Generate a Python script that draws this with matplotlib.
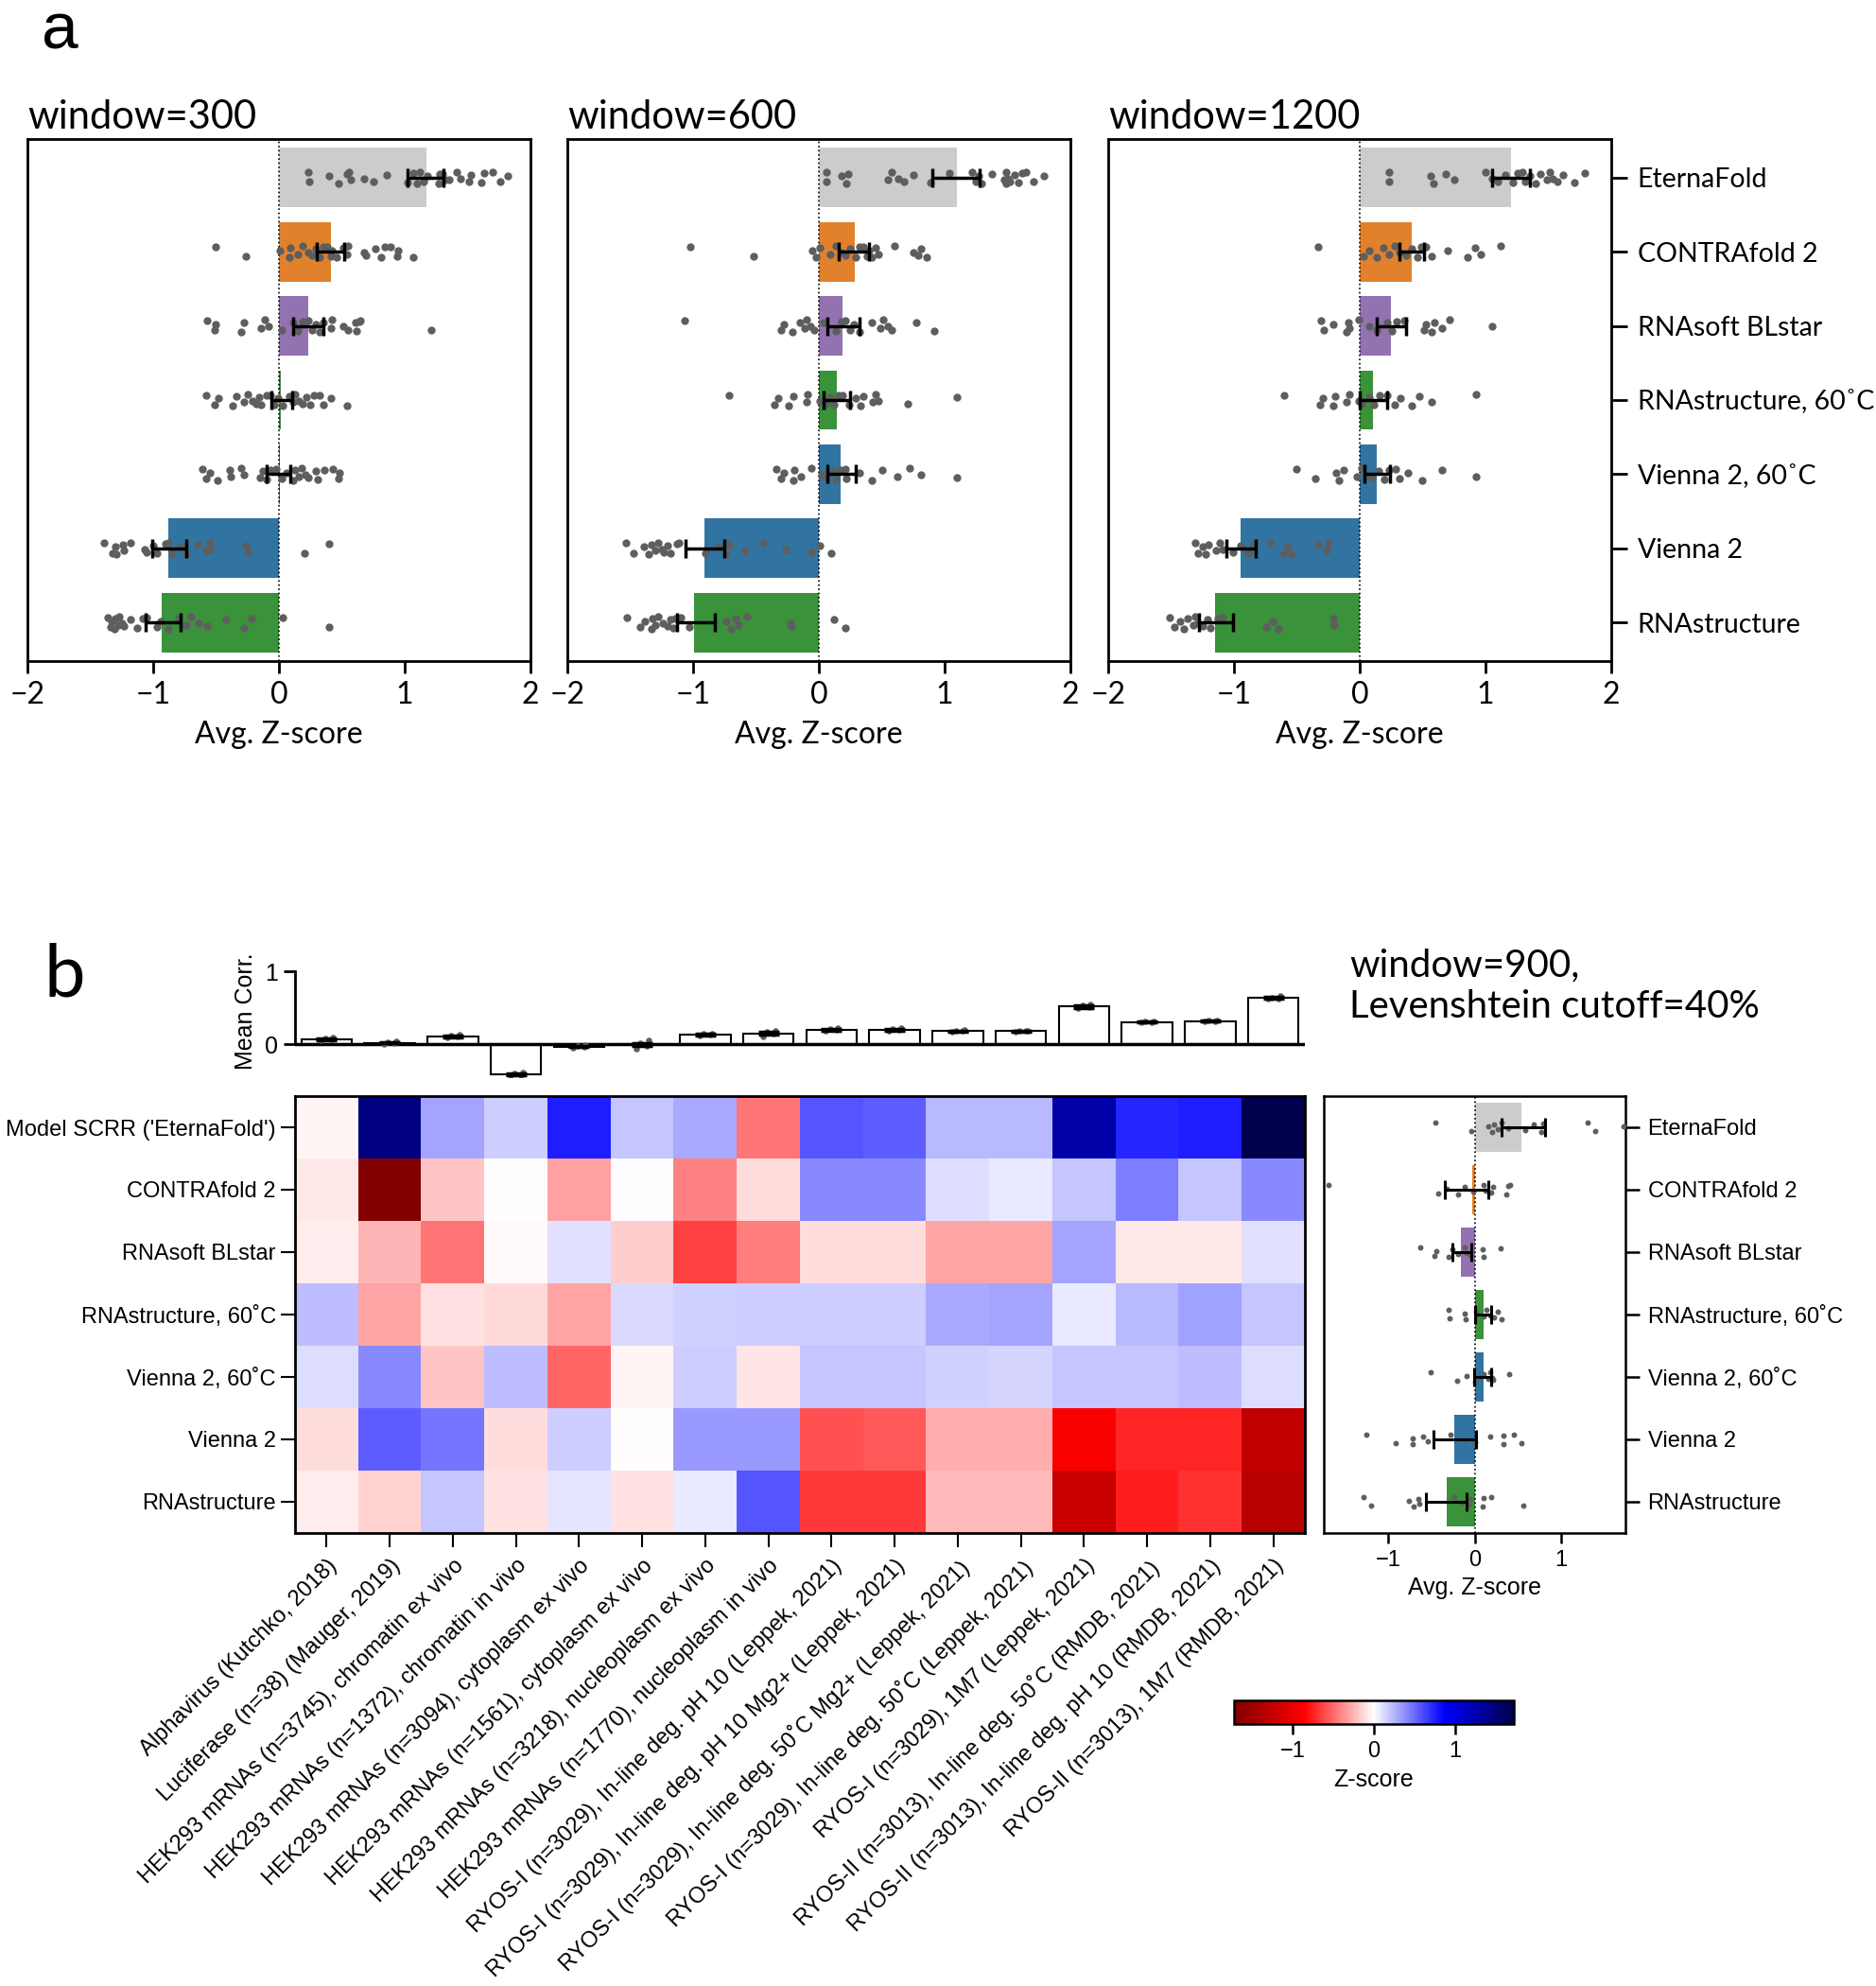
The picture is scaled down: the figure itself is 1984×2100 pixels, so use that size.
import numpy as np
import matplotlib
matplotlib.use("Agg")
import matplotlib.pyplot as plt
import seaborn as sns

plt.rcParams['font.family'] = ['Liberation Sans', 'DejaVu Sans']
LATO = ['Lato', 'DejaVu Sans']

W, H = 1984, 2100

methods = ["EternaFold", "CONTRAfold 2", "RNAsoft BLstar", "RNAstructure, 60˚C",
           "Vienna 2, 60˚C", "Vienna 2", "RNAstructure"]
heat_rows = ["Model SCRR ('EternaFold')", "CONTRAfold 2", "RNAsoft BLstar",
             "RNAstructure, 60˚C", "Vienna 2, 60˚C", "Vienna 2", "RNAstructure"]
base_colors = ["lightgray", "tab:orange", "tab:purple", "tab:green",
               "tab:blue", "tab:blue", "tab:green"]
windows = ["window=300", "window=600", "window=1200"]

# panel a: bar means and 95% CI per window
means_a = [
    [1.175, 0.41, 0.23, 0.015, 0.005, -0.877, -0.93],
    [1.10, 0.285, 0.19, 0.14, 0.17, -0.91, -0.99],
    [1.20, 0.415, 0.25, 0.105, 0.135, -0.945, -1.15],
]
ci_a = [
    [(1.02, 1.31), (0.30, 0.52), (0.11, 0.355), (-0.06, 0.105), (-0.10, 0.09), (-1.01, -0.74), (-1.06, -0.78)],
    [(0.905, 1.28), (0.16, 0.40), (0.066, 0.32), (0.035, 0.25), (0.07, 0.29), (-1.06, -0.75), (-1.13, -0.83)],
    [(1.055, 1.35), (0.315, 0.515), (0.135, 0.365), (0.0, 0.22), (0.04, 0.24), (-1.06, -0.83), (-1.28, -1.01)],
]
# per-sequence points (window=300)
pts_300 = [
    [0.23, 0.24, 0.40, 0.47, 0.54, 0.57, 0.56, 0.68, 0.75, 0.86, 1.02, 1.07, 1.12, 1.15, 1.18, 1.27, 1.30,
     1.35, 1.41, 1.44, 1.51, 1.53, 1.61, 1.63, 1.70, 1.76, 1.82, 1.10, 1.28, 1.32],
    [-0.50, -0.26, 0.005, 0.08, 0.09, 0.15, 0.19, 0.235, 0.26, 0.29, 0.32, 0.35, 0.38, 0.41, 0.42, 0.46,
     0.51, 0.54, 0.55, 0.68, 0.69, 0.77, 0.81, 0.84, 0.89, 0.94, 0.95, 1.07],
    [-0.57, -0.51, -0.50, -0.30, -0.28, -0.14, -0.11, -0.08, 0.02, 0.11, 0.15, 0.19, 0.23, 0.26, 0.29, 0.32,
     0.35, 0.41, 0.42, 0.51, 0.55, 0.61, 0.62, 0.64, 0.65, 1.21],
    [-0.58, -0.51, -0.48, -0.37, -0.34, -0.28, -0.25, -0.21, -0.18, -0.16, -0.14, -0.095, -0.065, -0.04,
     -0.01, 0.03, 0.08, 0.11, 0.13, 0.16, 0.19, 0.22, 0.25, 0.28, 0.32, 0.355, 0.41, 0.54],
    [-0.61, -0.58, -0.55, -0.49, -0.39, -0.38, -0.30, -0.28, -0.15, -0.13, -0.095, -0.065, -0.02, 0.02,
     0.06, 0.11, 0.13, 0.155, 0.18, 0.21, 0.23, 0.29, 0.31, 0.36, 0.43, 0.47, 0.48],
    [-1.39, -1.32, -1.30, -1.29, -1.24, -1.23, -1.18, -1.07, -1.05, -1.00, -0.97, -0.90, -0.88, -0.85,
     -0.78, -0.74, -0.65, -0.58, -0.55, -0.54, -0.25, -0.26, 0.20, 0.40],
    [-1.36, -1.34, -1.33, -1.31, -1.30, -1.28, -1.27, -1.25, -1.23, -1.18, -1.13, -1.08, -1.05, -0.97,
     -0.94, -0.88, -0.80, -0.74, -0.70, -0.64, -0.57, -0.42, -0.28, -0.22, 0.03, 0.40],
]
pts_600 = [
    [0.06, 0.06, 0.18, 0.22, 0.23, 0.55, 0.58, 0.63, 0.68, 0.755, 0.89, 1.04, 1.22, 1.245, 1.27, 1.29,
     1.375, 1.475, 1.49, 1.505, 1.52, 1.56, 1.59, 1.62, 1.65, 1.71, 1.79, 1.49],
    [-1.02, -0.52, -0.05, -0.02, 0.01, 0.09, 0.135, 0.18, 0.21, 0.25, 0.29, 0.32, 0.35, 0.38, 0.395, 0.42,
     0.45, 0.47, 0.605, 0.755, 0.79, 0.81, 0.86],
    [-1.07, -0.30, -0.28, -0.21, -0.15, -0.11, -0.095, -0.07, -0.04, 0.035, 0.135, 0.18, 0.21, 0.25, 0.28,
     0.32, 0.42, 0.49, 0.51, 0.55, 0.58, 0.775, 0.915],
    [-0.715, -0.35, -0.32, -0.24, -0.20, -0.10, -0.09, 0.01, 0.05, 0.09, 0.12, 0.155, 0.19, 0.24, 0.29,
     0.33, 0.35, 0.43, 0.45, 0.47, 0.705, 1.10],
    [-0.34, -0.30, -0.28, -0.20, -0.195, -0.14, -0.06, 0.02, 0.06, 0.11, 0.135, 0.17, 0.21, 0.22, 0.32,
     0.42, 0.50, 0.625, 0.72, 0.81, 1.10],
    [-1.535, -1.47, -1.39, -1.35, -1.33, -1.30, -1.28, -1.25, -1.23, -1.20, -1.18, -1.13, -1.11, -0.90,
     -0.80, -0.74, -0.715, -0.585, -0.44, -0.26, -0.06, 0.005, 0.10],
    [-1.53, -1.42, -1.38, -1.33, -1.32, -1.30, -1.28, -1.24, -1.20, -1.18, -1.16, -1.14, -1.10, -1.03,
     -0.74, -0.70, -0.66, -0.64, -0.57, -0.225, -0.215, 0.12, 0.21],
]
pts_1200 = [
    [0.23, 0.235, 0.565, 0.59, 0.685, 0.755, 1.0, 1.055, 1.095, 1.155, 1.215, 1.255, 1.295, 1.315, 1.355,
     1.395, 1.435, 1.485, 1.51, 1.535, 1.575, 1.615, 1.71, 1.79],
    [-0.33, 0.03, 0.075, 0.135, 0.19, 0.235, 0.275, 0.315, 0.365, 0.415, 0.455, 0.485, 0.525, 0.57, 0.70,
     0.855, 0.915, 0.965, 1.12],
    [-0.305, -0.285, -0.21, -0.105, -0.09, -0.085, -0.01, 0.075, 0.135, 0.215, 0.255, 0.295, 0.35, 0.515,
     0.53, 0.575, 0.595, 0.655, 0.715, 1.05],
    [-0.60, -0.315, -0.29, -0.21, -0.195, -0.105, -0.085, -0.01, 0.015, 0.075, 0.115, 0.155, 0.215, 0.275,
     0.325, 0.41, 0.475, 0.57, 0.925],
    [-0.505, -0.35, -0.185, -0.165, -0.125, -0.025, 0.015, 0.055, 0.095, 0.15, 0.195, 0.235, 0.285, 0.315,
     0.385, 0.495, 0.655, 0.925],
    [-1.305, -1.285, -1.25, -1.225, -1.205, -1.145, -1.115, -1.09, -1.005, -0.945, -0.89, -0.845, -0.715,
     -0.605, -0.57, -0.545, -0.33, -0.265, -0.245],
    [-1.515, -1.475, -1.425, -1.395, -1.365, -1.325, -1.305, -1.285, -1.25, -1.21, -1.185, -1.13, -1.09,
     -0.745, -0.69, -0.645, -0.21, -0.205],
]
pts_a = [pts_300, pts_600, pts_1200]

# panel b: heatmap of Z-scores
datasets = [
    "Alphavirus (Kutchko, 2018)",
    "Luciferase (n=38) (Mauger, 2019)",
    "HEK293 mRNAs (n=3745), chromatin ex vivo",
    "HEK293 mRNAs (n=1372), chromatin in vivo",
    "HEK293 mRNAs (n=3094), cytoplasm ex vivo",
    "HEK293 mRNAs (n=1561), cytoplasm ex vivo",
    "HEK293 mRNAs (n=3218), nucleoplasm ex vivo",
    "HEK293 mRNAs (n=1770), nucleoplasm in vivo",
    "RYOS-I (n=3029), In-line deg. pH 10 (Leppek, 2021)",
    "RYOS-I (n=3029), In-line deg. pH 10 Mg2+ (Leppek, 2021)",
    "RYOS-I (n=3029), In-line deg. 50˚C Mg2+ (Leppek, 2021)",
    "RYOS-I (n=3029), In-line deg. 50˚C (Leppek, 2021)",
    "RYOS-I (n=3029), 1M7 (Leppek, 2021)",
    "RYOS-II (n=3013), In-line deg. 50˚C (RMDB, 2021)",
    "RYOS-II (n=3013), In-line deg. pH 10 (RMDB, 2021)",
    "RYOS-II (n=3013), 1M7 (RMDB, 2021)",
]
z_eterna = [-0.03, 1.46, 0.30, 0.17, 0.76, 0.19, 0.29, -0.46, 0.57, 0.55, 0.24, 0.24, 1.27, 0.73, 0.76, 1.70]
z_contra = [-0.08, -1.70, -0.20, -0.01, -0.32, 0.0, -0.42, -0.11, 0.39, 0.40, 0.12, 0.08, 0.20, 0.44, 0.20, 0.40]
z_rnasoft = [-0.06, -0.25, -0.46, -0.02, 0.10, -0.17, -0.64, -0.44, -0.12, -0.11, -0.30, -0.30, 0.30, -0.08, -0.08, 0.10]
z_rnastr60 = [0.22, -0.30, -0.10, -0.13, -0.30, 0.13, 0.15, 0.17, 0.17, 0.17, 0.29, 0.30, 0.08, 0.24, 0.32, 0.20]
z_vienna60 = [0.12, 0.40, -0.20, 0.22, -0.52, -0.04, 0.17, -0.09, 0.19, 0.19, 0.15, 0.14, 0.20, 0.20, 0.22, 0.12]
z_vienna = [-0.11, 0.54, 0.46, -0.11, 0.17, -0.01, 0.34, 0.34, -0.59, -0.56, -0.27, -0.27, -0.89, -0.73, -0.73, -1.27]
z_rnastr = [-0.06, -0.15, 0.20, -0.10, 0.09, -0.10, 0.08, 0.57, -0.66, -0.66, -0.24, -0.24, -1.20, -0.76, -0.69, -1.33]

# panel b: mean correlation per dataset
corr_mean = [0.07, 0.02, 0.11, -0.41, -0.03, 0.0, 0.13, 0.15, 0.20, 0.20, 0.18, 0.18, 0.52, 0.305, 0.32, 0.635]
corr_err = [0.01, 0.01, 0.01, 0.01, 0.01, 0.02, 0.01, 0.02, 0.01, 0.01, 0.01, 0.01, 0.02, 0.01, 0.01, 0.01]
corr_pts = [
    [0.06, 0.07, 0.08, 0.09], [0.00, 0.02, 0.03, 0.04], [0.10, 0.11, 0.12, 0.13],
    [-0.43, -0.42, -0.40, -0.39], [-0.05, -0.03, -0.02, -0.01], [-0.06, -0.02, 0.02, 0.05],
    [0.12, 0.13, 0.14, 0.14], [0.11, 0.14, 0.17, 0.19], [0.19, 0.20, 0.21, 0.22],
    [0.19, 0.20, 0.21, 0.22], [0.17, 0.18, 0.19, 0.20], [0.17, 0.18, 0.19, 0.19],
    [0.49, 0.51, 0.53, 0.55], [0.30, 0.30, 0.31, 0.32], [0.31, 0.32, 0.33, 0.33],
    [0.62, 0.63, 0.64, 0.66],
]

# panel b: window=900 summary
means_b = [0.545, -0.025, -0.16, 0.10, 0.10, -0.23, -0.32]
ci_b = [(0.31, 0.81), (-0.345, 0.16), (-0.255, -0.04), (0.0, 0.19), (-0.01, 0.19), (-0.47, 0.02), (-0.565, -0.09)]
pts_b = [
    [-0.45, -0.04, 0.16, 0.20, 0.225, 0.265, 0.31, 0.39, 0.58, 0.68, 0.77, 0.79, 1.30, 1.39, 1.72],
    [-1.69, -0.42, -0.32, -0.19, -0.11, -0.02, 0.10, 0.13, 0.19, 0.21, 0.36, 0.39, 0.41],
    [-0.625, -0.46, -0.44, -0.30, -0.255, -0.19, -0.12, -0.09, -0.045, 0.09, 0.10, 0.295],
    [-0.30, -0.285, -0.12, -0.10, 0.015, 0.10, 0.14, 0.18, 0.225, 0.265, 0.31],
    [-0.51, -0.20, -0.09, 0.0, 0.10, 0.16, 0.18, 0.20, 0.215, 0.40],
    [-1.25, -0.91, -0.72, -0.71, -0.59, -0.535, -0.275, -0.11, 0.0, 0.175, 0.33, 0.335, 0.455, 0.545],
    [-1.28, -1.19, -0.755, -0.70, -0.65, -0.64, -0.23, -0.15, -0.075, -0.045, 0.09, 0.10, 0.19, 0.56],
]

JIT = [-0.07, 0.06, -0.02, 0.08, -0.05, 0.03, -0.08, 0.01, 0.05, -0.04, 0.07, -0.06]
colors = [sns.desaturate(c, 0.75) for c in base_colors]
colors[0] = "#cccccc"


def box(l, t, r, b):
    return [l / W, 1 - b / H, (r - l) / W, (b - t) / H]


def hbar_panel(ax, means, ci, pts, ptsize, cap, elw):
    y = np.arange(len(means))
    ax.barh(y, means, height=0.8, color=colors, zorder=1)
    ax.axvline(0, color="black", ls=":", lw=1.2, zorder=2)
    for i, vals in enumerate(pts):
        yy = [i + JIT[k % len(JIT)] for k in range(len(vals))]
        ax.scatter(vals, yy, s=ptsize, color="#5e5e5e", linewidths=0, zorder=3)
        lo, hi = ci[i]
        ax.errorbar((lo + hi) / 2, i, xerr=(hi - lo) / 2, fmt="none", ecolor="black",
                    elinewidth=elw, capsize=cap, capthick=elw, zorder=4)
    ax.set_ylim(6.52, -0.52)


fig = plt.figure(figsize=(W / 100, H / 100), dpi=100)

# ---------------- panel a ----------------
lefts = [29, 600, 1172]
for k in range(3):
    ax = fig.add_axes(box(lefts[k], 147, lefts[k] + 532, 699))
    hbar_panel(ax, means_a[k], ci_a[k], pts_a[k], 36, 7, 2.5)
    ax.set_xlim(-2, 2)
    ax.set_xticks([-2, -1, 0, 1, 2])
    for s in ax.spines.values():
        s.set_linewidth(2)
    ax.tick_params(axis="x", length=9, width=2, labelsize=23, pad=6)
    for lab in ax.get_xticklabels():
        lab.set_family(LATO)
    ax.set_xlabel("Avg. Z-score", fontsize=23, family=LATO, labelpad=9)
    ax.set_title(windows[k], loc="left", fontsize=30, family=LATO, pad=8)
    if k == 2:
        ax.set_yticks(np.arange(7))
        ax.set_yticklabels(methods, family=LATO)
        ax.yaxis.tick_right()
        ax.tick_params(axis="y", length=12, width=2, labelsize=20.5, pad=8)
    else:
        ax.set_yticks([])

fig.text(44 / W, 1 - 1 / H, "a", fontsize=50, va="top")
fig.text(47 / W, 1 - 1054 / H, "b", fontsize=56, family=LATO, va="baseline")

# ---------------- panel b: mean correlation ----------------
axc = fig.add_axes(box(312, 1000, 1380, 1139))
xc = np.arange(len(corr_mean))
axc.bar(xc, corr_mean, width=0.8, color="white", edgecolor="black", linewidth=1.5, zorder=1)
axc.axhline(0, color="black", lw=2.5, zorder=2)
for i, vals in enumerate(corr_pts):
    xx = [i + JIT[k % len(JIT)] * 1.3 for k in range(len(vals))]
    axc.scatter(xx, vals, s=22, color="#5e5e5e", linewidths=0, zorder=3)
    axc.errorbar(i, corr_mean[i], yerr=corr_err[i], fmt="none", ecolor="black",
                 elinewidth=2.5, capsize=8, capthick=2.5, zorder=4)
axc.set_xlim(-0.5, len(corr_mean) - 0.5)
axc.set_ylim(-0.45, 1.35)
axc.set_yticks([0, 1])
axc.set_xticks([])
for s in ["top", "right", "bottom"]:
    axc.spines[s].set_visible(False)
axc.spines["left"].set_bounds(0, 1)
axc.spines["left"].set_linewidth(2)
axc.tick_params(axis="y", length=9, width=2, labelsize=18, pad=4)
axc.set_ylabel("Mean Corr.", fontsize=18, labelpad=6)

# ---------------- panel b: heatmap ----------------
Z = np.array([z_eterna, z_contra, z_rnasoft, z_rnastr60, z_vienna60, z_vienna, z_rnastr])
axh = fig.add_axes(box(312, 1159, 1380, 1621))
im = axh.imshow(Z, cmap="seismic_r", vmin=-1.72, vmax=1.72, aspect="auto",
                interpolation="nearest")
axh.set_yticks(np.arange(len(heat_rows)))
axh.set_yticklabels(heat_rows, fontsize=17)
axh.set_xticks(np.arange(len(datasets)))
axh.set_xticklabels(datasets, fontsize=17, rotation=45, ha="right", rotation_mode="anchor")
axh.tick_params(axis="both", length=11, width=1.5)
axh.tick_params(axis="x", pad=6)
for s in axh.spines.values():
    s.set_linewidth(2)

# ---------------- panel b: window=900 bars ----------------
axr = fig.add_axes(box(1400, 1159, 1719, 1621))
hbar_panel(axr, means_b, ci_b, pts_b, 18, 7, 2.2)
axr.set_ylim(6.5, -0.5)
axr.set_xlim(-1.74, 1.74)
axr.set_xticks([-1, 0, 1])
axr.set_yticks(np.arange(7))
axr.set_yticklabels(methods)
axr.yaxis.tick_right()
for s in axr.spines.values():
    s.set_linewidth(1.8)
axr.tick_params(axis="y", length=11, width=1.8, labelsize=17, pad=6)
axr.tick_params(axis="x", length=8, width=1.8, labelsize=17, pad=5)
axr.set_xlabel("Avg. Z-score", fontsize=18, labelpad=4)

fig.text(1427 / W, 1 - 1002 / H, "window=900,\nLevenshtein cutoff=40%", fontsize=29,
         family=LATO, va="top", ha="left", linespacing=1.25)

# ---------------- colorbar ----------------
cax = fig.add_axes(box(1305, 1798, 1601, 1823))
cb = fig.colorbar(im, cax=cax, orientation="horizontal", ticks=[-1, 0, 1])
cb.outline.set_linewidth(1.8)
cax.tick_params(length=8, width=1.8, labelsize=17, pad=5)
cb.set_label("Z-score", fontsize=18, labelpad=5)

fig.savefig("out.png", dpi=100)
